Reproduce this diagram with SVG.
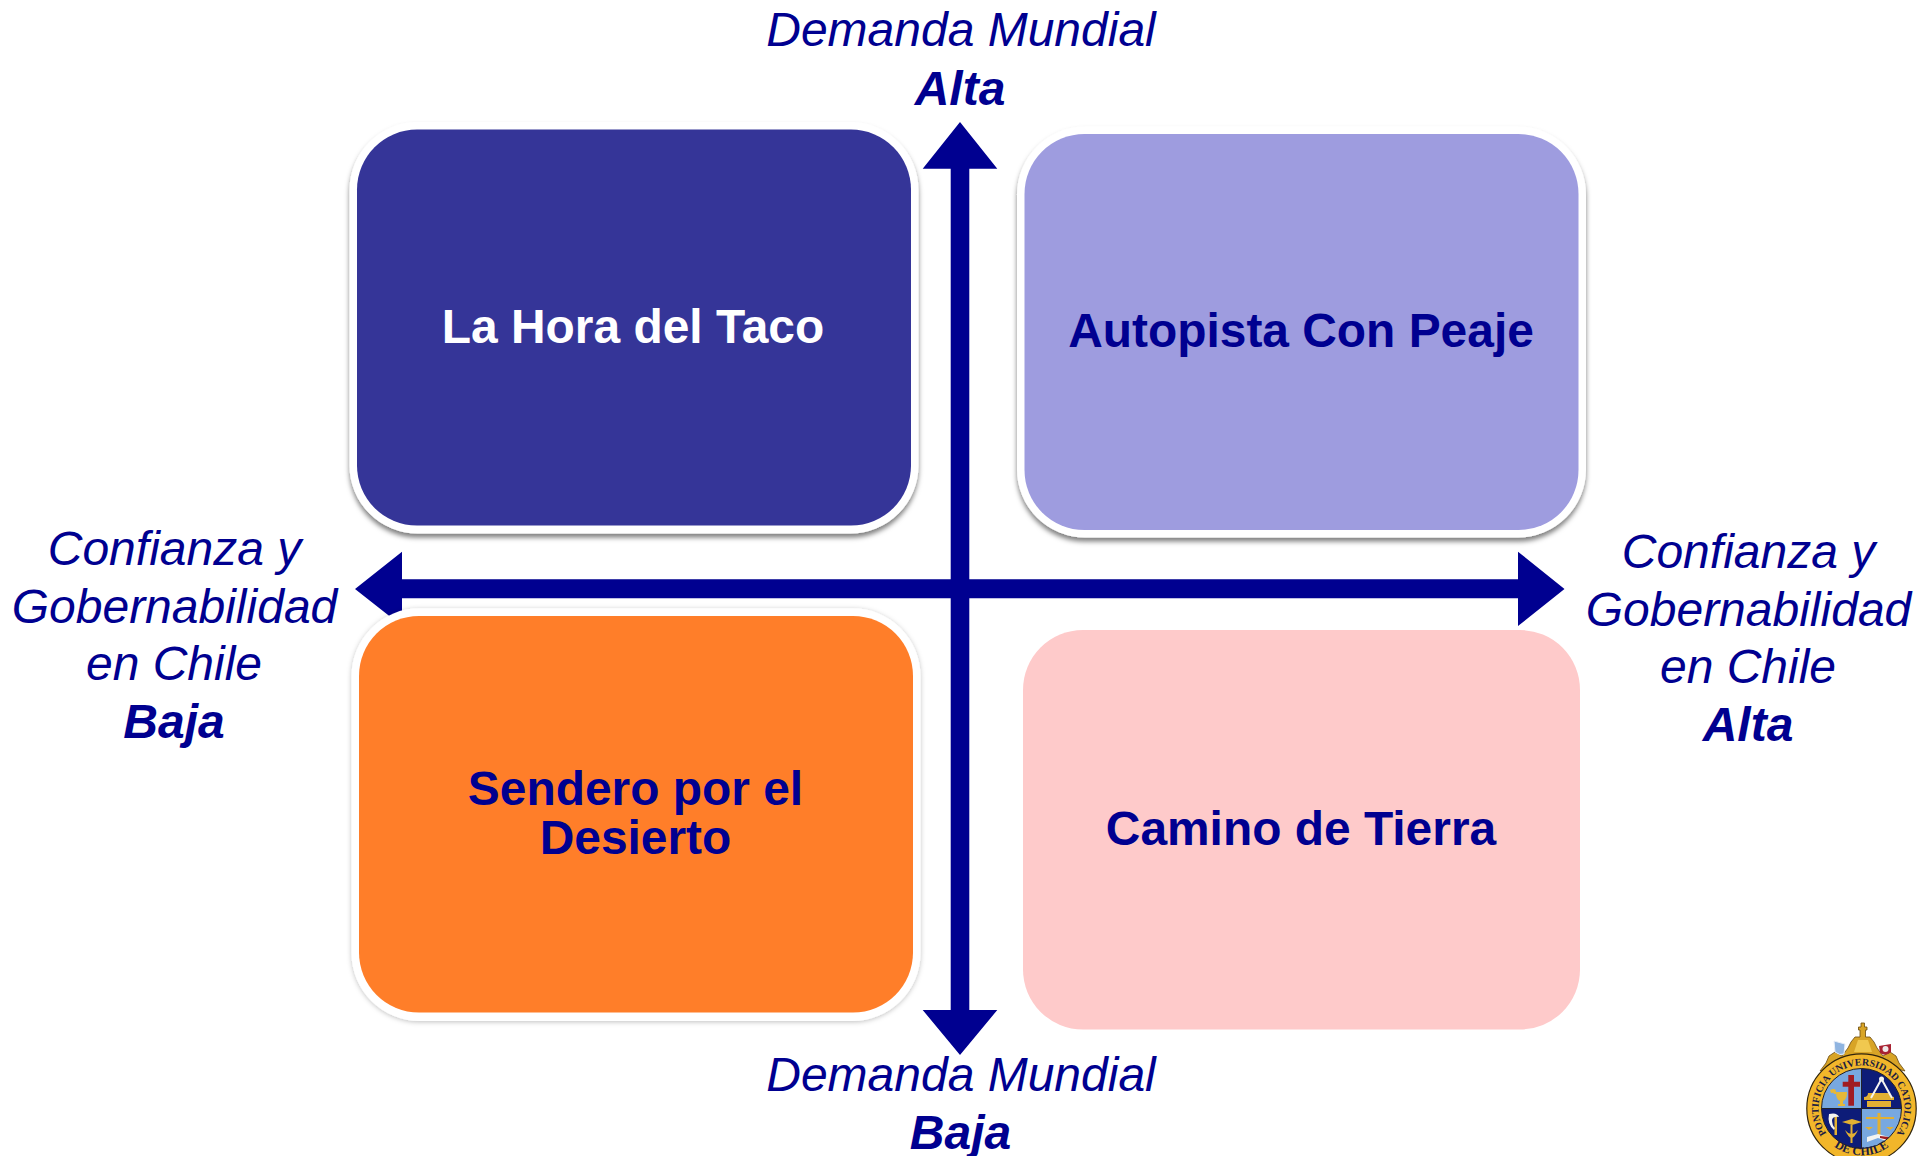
<svg xmlns="http://www.w3.org/2000/svg" width="1917" height="1156" viewBox="0 0 1917 1156">
<defs>
<style>
.ax{font-family:"Liberation Sans",Arial,sans-serif;font-style:italic;font-size:48px;fill:#000090;text-anchor:middle}
.axb{font-weight:bold}
.nd{font-family:"Liberation Sans",Arial,sans-serif;font-weight:bold;font-size:47.9px;text-anchor:middle;fill:#000090}
.ar{fill:#000090}
.ring{font-family:"Liberation Serif",serif;font-size:10px;font-weight:bold;fill:#1c1c40}
.ringb{font-size:12px}
.gold{fill:#e2b030}
.wht{fill:#f4f4f0}
</style>
<filter id="sh" x="-10%" y="-10%" width="120%" height="125%"><feDropShadow dx="0" dy="4" stdDeviation="2.5" flood-color="#000" flood-opacity="0.5"/></filter>
<filter id="shl" x="-10%" y="-10%" width="120%" height="120%"><feDropShadow dx="0" dy="1" stdDeviation="2.5" flood-color="#000" flood-opacity="0.25"/></filter>
<filter id="soft" x="-5%" y="-5%" width="110%" height="110%"><feGaussianBlur stdDeviation="0.45"/></filter>
<clipPath id="qc"><circle cx="1861.5" cy="1108.5" r="40"/></clipPath>
<path id="arcTop" d="M1833.9 1141.4A43 43 0 1 1 1889.1 1141.4"/>
<path id="arcBot" d="M1825 1138A47 47 0 0 0 1898 1138"/>
</defs>
<rect width="1917" height="1156" fill="#fff"/>
<g id="connectors">
<path class="ar" d="M922.7 168.7L960 122L997.3 168.7H969.3V1010H997.3L960 1055L922.7 1010H950.7V168.7Z"/>
<path class="ar" d="M355 589L402 551.7V579.3H1518V551.7L1564.5 589L1518 626V598.3H402V626Z"/>
</g>
<g id="node-hora">
<rect x="349.5" y="122" width="569" height="411.5" rx="68" fill="#fff" filter="url(#sh)"/>
<rect x="357" y="129.6" width="554" height="396" rx="60" fill="#353598"/>
<text class="nd" x="633" y="343" style="fill:#fff">La Hora del Taco</text>
</g>
<g id="node-autopista">
<rect x="1017" y="126.5" width="569" height="411" rx="68" fill="#fff" filter="url(#sh)"/>
<rect x="1024.5" y="134" width="554" height="396" rx="60" fill="#9e9cdf"/>
<text class="nd" x="1301" y="347">Autopista Con Peaje</text>
</g>
<g id="node-sendero">
<rect x="351.5" y="608.3" width="569" height="412.7" rx="68" fill="#fff" filter="url(#shl)"/>
<rect x="359" y="616" width="554" height="396.5" rx="60" fill="#ff7e29"/>
<text class="nd" x="635.5" y="805">Sendero por el</text>
<text class="nd" x="635.5" y="854">Desierto</text>
</g>
<g id="node-camino">
<rect x="1023" y="630" width="557" height="399.5" rx="60" fill="#fecaca"/>
<text class="nd" x="1301" y="845">Camino de Tierra</text>
</g>
<g id="label-top">
<text class="ax" x="961" y="46">Demanda Mundial</text>
<text class="ax axb" x="960" y="105">Alta</text>
</g>
<g id="label-bottom">
<text class="ax" x="961" y="1091">Demanda Mundial</text>
<text class="ax axb" x="960.5" y="1149">Baja</text>
</g>
<g id="label-left">
<text class="ax" x="174.5" y="565">Confianza y</text>
<text class="ax" x="174.5" y="623">Gobernabilidad</text>
<text class="ax" x="174" y="680">en Chile</text>
<text class="ax axb" x="174" y="738">Baja</text>
</g>
<g id="label-right">
<text class="ax" x="1748.5" y="568">Confianza y</text>
<text class="ax" x="1748.5" y="626">Gobernabilidad</text>
<text class="ax" x="1748" y="683">en Chile</text>
<text class="ax axb" x="1748" y="741">Alta</text>
</g>
<g id="logo">
<g filter="url(#soft)">
<path d="M1820 1071L1826 1063L1829 1056L1835 1052L1842 1056L1848 1048L1851 1042L1855 1037H1860V1030H1858.5V1027H1861V1023H1864.5V1027H1867V1030H1865.5V1037H1870L1874 1042L1877 1048L1883 1056L1890 1052L1896 1056L1899 1063L1905 1071L1861 1059Z" fill="#d8a428" stroke="#6a4a10" stroke-width="0.8"/>
<path d="M1834 1041L1845 1044L1844 1054Q1840 1056 1835 1052Z" fill="#8fb4e0" stroke="#e8eef8" stroke-width="1"/>
<path d="M1879 1046L1891 1044L1891 1052Q1886 1057 1880 1053Z" fill="#a82030"/>
<circle cx="1885.5" cy="1049" r="3" fill="#f0e8e8"/>
<path d="M1858 1040H1868L1872 1052H1854Z" fill="#f0c850"/>
<circle cx="1861.5" cy="1108.5" r="54.7" fill="#f2b62c" stroke="#30240c" stroke-width="1.2"/>
<g clip-path="url(#qc)">
<rect x="1821" y="1068" width="40.5" height="40.5" fill="#78a8e0"/>
<rect x="1861.5" y="1068" width="41" height="40.5" fill="#101c78"/>
<rect x="1821" y="1108.5" width="40.5" height="41" fill="#101c78"/>
<rect x="1861.5" y="1108.5" width="41" height="41" fill="#78a8e0"/>
<path d="M1848.3 1075h5.7v6.7h6v5h-6v19h-5.7v-19h-5.600v-5h5.600z" fill="#a01c24"/>
<path d="M1836 1092h11q0 8-4 9v3h2v2h-7v-2h2v-3q-4-1-4-9zM1830 1090q6-3 6 2v2h-2q0-2-3-1z" fill="#e6b838"/>
<path d="M1864 1100h30v-3q-4 0-4-4h-22q0 4-4 4zM1867 1101h24v6h-24z" class="gold"/>
<path d="M1881.5 1079L1871 1098M1881.5 1079L1892 1098" stroke="#f4f4f0" stroke-width="2" fill="none"/>
<circle cx="1881.5" cy="1079" r="2.5" class="wht"/>
<rect x="1834.5" y="1116" width="2.5" height="19" class="gold"/>
<path d="M1829 1114q8-2 10 3q-6-1-7 3q0 5 3 8l-1 2q-7-6-5-16z" class="wht"/>
<path d="M1842 1122l10-3 10 3-10 3z" class="gold"/>
<path d="M1851.5 1125v18" stroke="#e2b030" stroke-width="2"/>
<path d="M1845 1130q3 7 6.5 8q3.5-1 6.5-8q-2 3-6.5 4q-4.5-1-6.5-4z" class="gold"/>
<rect x="1877.5" y="1113" width="3" height="24" class="gold"/>
<rect x="1866" y="1117" width="28" height="2" class="gold"/>
<path d="M1865 1127h8l-4 3zM1886 1127h8l-4 3z" class="gold"/>
<path d="M1867 1142l11-4 11 4v-5l-11-3-11 3z" class="wht"/>
<path d="M1880 1136l9 1v3l-9-2z" fill="#a01c24"/>
</g>
<circle cx="1861.5" cy="1108.5" r="40" fill="none" stroke="#20202a" stroke-width="1"/>
<path d="M1821.5 1108.5H1901.5M1861.5 1068.5V1148.5" stroke="#20202a" stroke-width="1"/>
</g>
<text class="ring"><textPath href="#arcTop" startOffset="50%" text-anchor="middle">PONTIFICIA UNIVERSIDAD CATOLICA</textPath></text>
<text class="ring ringb"><textPath href="#arcBot" startOffset="50%" text-anchor="middle">DE CHILE</textPath></text>
</g>
</svg>
